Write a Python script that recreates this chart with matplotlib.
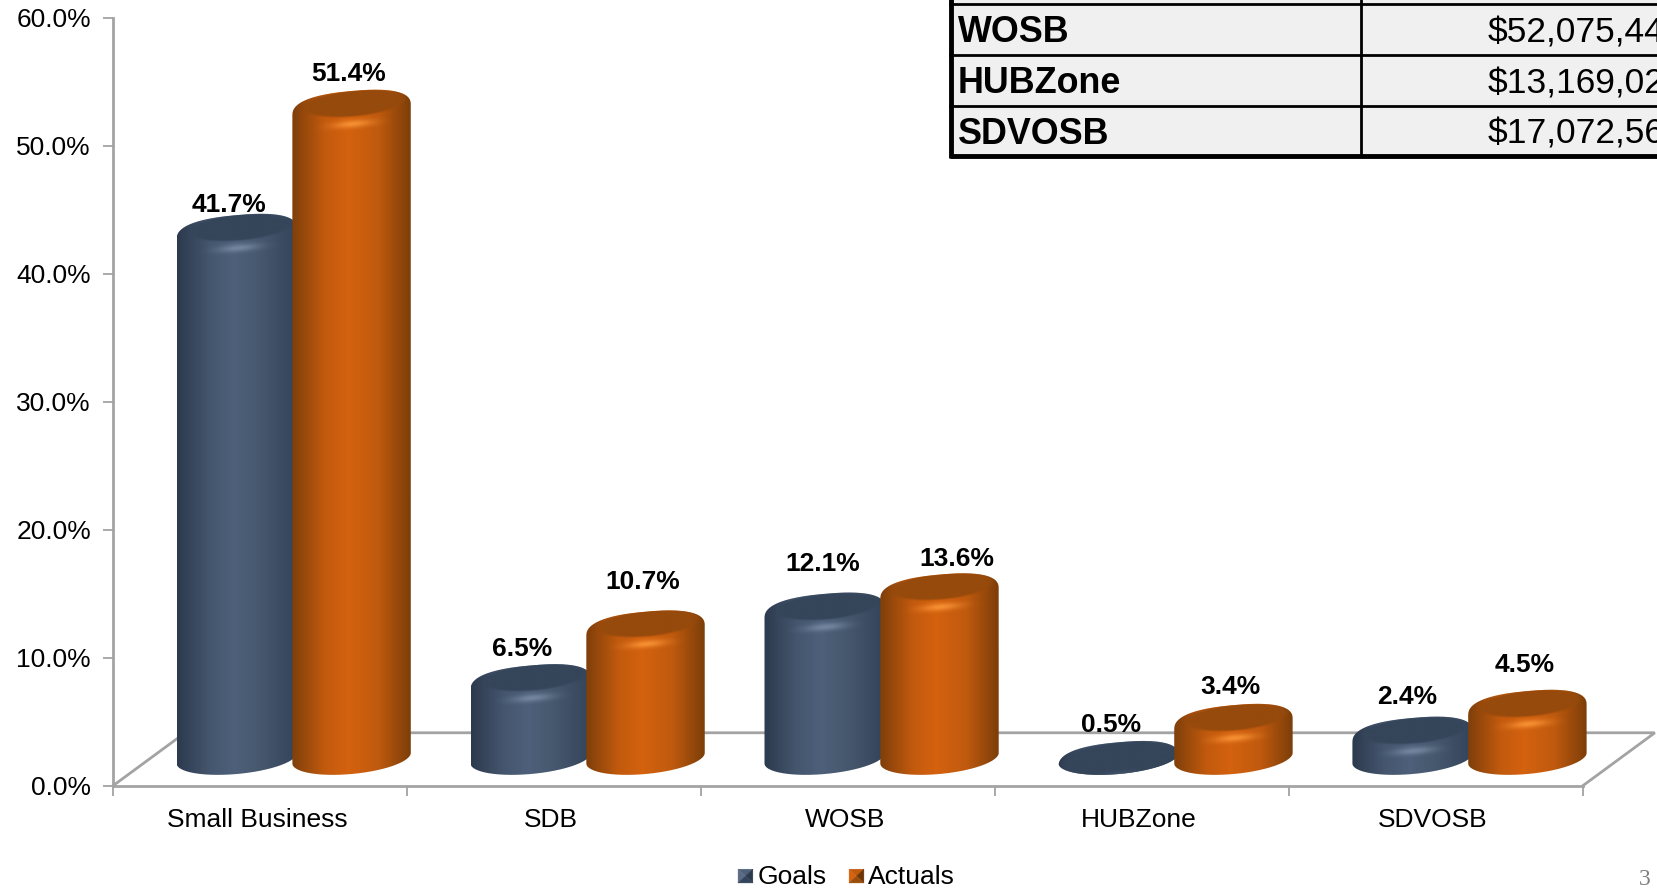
import numpy as np
import matplotlib
matplotlib.use('Agg')
import matplotlib.pyplot as plt
from matplotlib.patches import PathPatch, Patch, Rectangle, Polygon
from matplotlib.path import Path
from matplotlib.colors import to_rgb

plt.rcParams['font.family'] = ['Liberation Sans', 'DejaVu Sans']

categories = ['Small Business', 'SDB', 'WOSB', 'HUBZone', 'SDVOSB']
goals = [41.7, 6.5, 12.1, 0.5, 2.4]
actuals = [51.4, 10.7, 13.6, 3.4, 4.5]
y_ticks = [0, 10, 20, 30, 40, 50, 60]

table_names = ['WOSB', 'HUBZone', 'SDVOSB']
table_values = ['$52,075,44', '$13,169,02', '$17,072,56']

# layout is worked out in px of a 1568x840 view of the picture
W, H = 1568.0, 839.8
X0, X1, Y0, Y60 = 107.0, 1497.0, 743.0, 17.0
SX = 5.0 / (X1 - X0)
SY = 60.0 / (Y0 - Y60)

# label nudges from the top of each bar, in px
goal_nudge = [(-7, 28), (-8, 34), (-2, 46), (-7, 34), (-5, 38)]
actual_nudge = [(-3, 34), (-3, 46), (16, 33), (-3, 35), (-3, 43)]

navy = ['#2c3a4d', '#45566e', '#4e607a', '#45566c', '#33445a']
orange = ['#7f3f0a', '#c25a0e', '#d4620f', '#c05a0e', '#7c3e09']
navy_top = '#35455a'
orange_top = '#964a0c'
navy_hi = '#7d90a8'
orange_hi = '#ff9a3c'
ramp_at = [-1, -0.45, -0.05, 0.45, 1]


def silhouette(cx, base, top, a, b_base, b, k):
    t1 = np.linspace(np.pi, 2 * np.pi, 60)
    t2 = np.linspace(0, np.pi, 80)
    # lid is a bit squarer than the foot, gives the rounded shoulder
    n = 2.5
    cu = np.sign(np.cos(t2)) * np.abs(np.cos(t2)) ** (2 / n)
    su = np.abs(np.sin(t2)) ** (2 / n)
    xs = np.r_[cx + a * np.cos(t1), cx + a * cu]
    ys = np.r_[base + b_base * np.sin(t1) + k * np.cos(t1),
               top + b * su + k * cu]
    return Path(np.c_[xs, ys], closed=False)


def clip_to(im, patch, fig):
    im.set_clip_path(patch)
    im.set_clip_box(fig.bbox)


def draw_bar(ax, cx, value, a, ramp, top_col, hi_col, z):
    base = 26 * SY
    top = 17 * SY + value
    b_base = 15 * SY
    b = 18 * SY
    k = 5 * SY
    a = a * SX

    patch = PathPatch(silhouette(cx, base, top, a, b_base, b, k), fc='none', ec='none', zorder=z)
    ax.add_patch(patch)

    # side of the cylinder
    u = np.linspace(-1, 1, 200)
    cols = np.array([to_rgb(c) for c in ramp])
    side = np.stack([np.interp(u, ramp_at, cols[:, i]) for i in range(3)], axis=-1)
    im = ax.imshow(side[None, :, :], extent=[cx - a, cx + a, base - b_base - k, top + b + k],
                   aspect='auto', zorder=z, interpolation='bilinear')
    clip_to(im, patch, ax.figure)

    # bevel on the top: dark face and a small highlight under it
    small = 1 - min(1.0, value / 2.0)
    fa = 0.84 + 0.16 * small
    fb = 0.68 + 0.34 * small
    fv = 0.36 * (1 - small)
    ys = np.linspace(top - 2.4 * b, top + b + k, 120)
    xs = np.linspace(cx - a, cx + a, 240)
    xx, yy = np.meshgrid(xs, ys)
    uu = (xx - cx) / a
    vv = (yy - top - k * uu) / b
    d = np.sqrt(((uu - 0.04) / fa) ** 2 + ((vv - fv) / fb) ** 2)
    rgba = np.zeros(xx.shape + (4,))
    rgba[..., :3] = to_rgb(top_col)
    rgba[..., 3] = np.clip((1.08 - d) / 0.16, 0, 1)
    im2 = ax.imshow(rgba, extent=[xs[0], xs[-1], ys[0], ys[-1]], origin='lower',
                    aspect='auto', zorder=z + 0.1, interpolation='bilinear')
    clip_to(im2, patch, ax.figure)

    glow = np.exp(-((uu - 0.02) / 0.34) ** 2 - ((vv + 0.72) / 0.2) ** 2) * (1 - small) * 0.8
    rgba2 = np.zeros(xx.shape + (4,))
    rgba2[..., :3] = to_rgb(hi_col)
    rgba2[..., 3] = glow
    im3 = ax.imshow(rgba2, extent=[xs[0], xs[-1], ys[0], ys[-1]], origin='lower',
                    aspect='auto', zorder=z + 0.2, interpolation='bilinear')
    clip_to(im3, patch, ax.figure)
    return top


fig = plt.figure(figsize=(16.58, 8.88), dpi=100)
ax = fig.add_axes([X0 / W, 1 - Y0 / H, (X1 - X0) / W, (Y0 - Y60) / H])

# floor of the 3d box
depth_x = 68 * SX
depth_y = 50 * SY
gray = '#a3a3a3'
ax.plot([0, depth_x, 5 + depth_x, 5], [0, depth_y, depth_y, 0], color=gray, lw=2,
        clip_on=False, zorder=1, solid_joinstyle='miter')

for i in range(len(categories)):
    x_g = i + (224 - X0) * SX
    x_a = i + (332.5 - X0) * SX
    g_top = draw_bar(ax, x_g, goals[i], 57, navy, navy_top, navy_hi, 3 + i)
    a_top = draw_bar(ax, x_a, actuals[i], 56, orange, orange_top, orange_hi, 3.5 + i)
    ax.text(x_g + goal_nudge[i][0] * SX, g_top + goal_nudge[i][1] * SY, '%.1f%%' % goals[i],
            ha='center', va='center', fontsize=19, fontweight='bold', color='black', zorder=20)
    ax.text(x_a + actual_nudge[i][0] * SX, a_top + actual_nudge[i][1] * SY, '%.1f%%' % actuals[i],
            ha='center', va='center', fontsize=19, fontweight='bold', color='black', zorder=20)

ax.set_xlim(0, 5)
ax.set_ylim(0, 60)
ax.patch.set_alpha(0)
for s in ['top', 'right']:
    ax.spines[s].set_visible(False)
for s in ['left', 'bottom']:
    ax.spines[s].set_color(gray)
    ax.spines[s].set_linewidth(2)
ax.set_yticks(y_ticks)
ax.set_yticklabels(['%.1f%%' % v for v in y_ticks], fontsize=19)
ax.set_xticks(range(6))
ax.set_xticklabels([])
ax.set_xticks(np.arange(5) + 0.49, labels=categories, minor=True, fontsize=19)
ax.tick_params(axis='y', length=7, width=1.3, color=gray, pad=9)
ax.tick_params(axis='x', which='major', length=7, width=1.3, color=gray)
ax.tick_params(axis='x', which='minor', length=0, pad=16)

handles = [Patch(fc='none', ec='none', label='Goals'),
           Patch(fc='none', ec='none', label='Actuals')]
fig.legend(handles=handles, loc='center', bbox_to_anchor=(800 / W, 1 - 829 / H), ncol=2,
           frameon=False, fontsize=19, handlelength=0.62, handleheight=0.62,
           handletextpad=0.15, columnspacing=0.8, borderpad=0)

# table in the corner, cut by the edge of the slide
tab = fig.add_axes([0, 0, 1, 1], zorder=10)
tab.set_xlim(0, W)
tab.set_ylim(H, 0)
tab.axis('off')
tab.add_patch(Rectangle((898, -10), 700, 158, fc='#f0f0f0', ec='none'))
for y in [4, 52, 100]:
    tab.plot([898, W], [y, y], color='black', lw=2)
tab.plot([898, W], [148, 148], color='black', lw=3.5, solid_capstyle='butt')
tab.plot([899, 899], [-10, 149.5], color='black', lw=3.5, solid_capstyle='butt')
tab.plot([1287, 1287], [-10, 148], color='black', lw=2, solid_capstyle='butt')
for j in range(len(table_names)):
    yc = 31 + 48 * j
    tab.text(906, yc, table_names[j], ha='left', va='center', fontsize=25.8, fontweight='bold')
    tab.text(1407, yc, table_values[j], ha='left', va='center', fontsize=25.5, clip_on=False)

# bevelled legend swatches
swatch_cols = [['#4e607a', '#5a6b84', '#2c3a4d', '#33445a'],
               ['#c25a0e', '#d4620f', '#6b3507', '#9a4c0a']]
for x, cols in zip([698, 803], swatch_cols):
    x2, y1, y2 = x + 14, 822, 835
    mid = (x + 7, 828.5)
    tab.add_patch(Polygon([(x, y1), (x2, y1), mid], fc=cols[0], ec=cols[0], lw=0.3))
    tab.add_patch(Polygon([(x, y1), (x, y2), mid], fc=cols[1], ec=cols[1], lw=0.3))
    tab.add_patch(Polygon([(x2, y1), (x2, y2), mid], fc=cols[2], ec=cols[2], lw=0.3))
    tab.add_patch(Polygon([(x, y2), (x2, y2), mid], fc=cols[3], ec=cols[3], lw=0.3))

tab.text(1550, 832, '3', ha='left', va='center', fontsize=17, color='#808080',
         family='Liberation Serif')

fig.savefig('out.png', dpi=100)
